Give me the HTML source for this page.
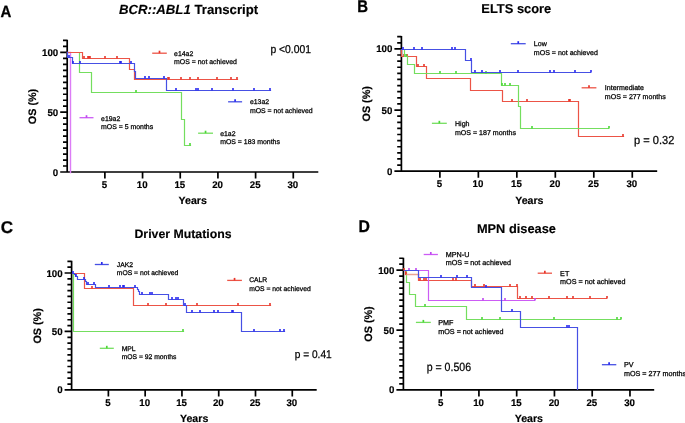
<!DOCTYPE html>
<html><head><meta charset="utf-8"><title>Kaplan-Meier OS curves</title>
<style>
html,body{margin:0;padding:0;background:#fff;}
body{width:685px;height:423px;overflow:hidden;font-family:"Liberation Sans", sans-serif;}
svg{display:block;will-change:transform;}
</style></head><body>
<svg width="685" height="423" viewBox="0 0 685 423" font-family="&quot;Liberation Sans&quot;, sans-serif" fill="#000" text-rendering="geometricPrecision">
<text x="0" y="0" font-size="16.3" font-weight="bold" stroke="#000" stroke-width="0.3" transform="translate(0.6 17) scale(0.92 1)">A</text>
<text x="0" y="0" font-size="17" font-weight="bold" stroke="#000" stroke-width="0.3" transform="translate(357.2 11.8) scale(0.88 1)">B</text>
<text x="0.8" y="232.8" font-size="17" font-weight="bold" text-anchor="start" stroke="#000" stroke-width="0.3">C</text>
<text x="0" y="0" font-size="17" font-weight="bold" stroke="#000" stroke-width="0.3" transform="translate(358.4 231.6) scale(0.93 1)">D</text>
<text x="188.6" y="13.9" font-size="13.2" font-weight="bold" text-anchor="middle" stroke="#000" stroke-width="0.15"><tspan font-style="italic">BCR::ABL1</tspan> Transcript</text>
<text x="516.3" y="12.8" font-size="12.9" font-weight="bold" text-anchor="middle" stroke="#000" stroke-width="0.15">ELTS score</text>
<text x="183" y="238.2" font-size="12.3" font-weight="bold" text-anchor="middle" stroke="#000" stroke-width="0.15">Driver Mutations</text>
<text x="516.4" y="233.1" font-size="12.8" font-weight="bold" text-anchor="middle" stroke="#000" stroke-width="0.15">MPN disease</text>
<path d="M67.2 39.84V172.8M60.2 172H318.3M60.2 172H67.2M63 166.02H67.2M63 160.04H67.2M63 154.06H67.2M63 148.08H67.2M63 142.1H67.2M63 136.12H67.2M63 130.14H67.2M63 124.16H67.2M63 118.18H67.2M60.2 112.2H67.2M63 106.22H67.2M63 100.24H67.2M63 94.26H67.2M63 88.28H67.2M63 82.3H67.2M63 76.32H67.2M63 70.34H67.2M63 64.36H67.2M63 58.38H67.2M60.2 52.4H67.2M63 46.42H67.2M63 40.44H67.2M104.88 172V178.5M142.56 172V178.5M180.24 172V178.5M217.92 172V178.5M255.6 172V178.5M293.28 172V178.5" stroke="#000" stroke-width="1.7" fill="none"/>
<text x="58.2" y="175.5" font-size="9.7" font-weight="bold" text-anchor="end" stroke="#000" stroke-width="0.18">0</text>
<text x="58.2" y="115.7" font-size="9.7" font-weight="bold" text-anchor="end" stroke="#000" stroke-width="0.18">50</text>
<text x="58.2" y="55.9" font-size="9.7" font-weight="bold" text-anchor="end" stroke="#000" stroke-width="0.18">100</text>
<text x="104.48" y="188" font-size="9.7" font-weight="bold" text-anchor="middle" stroke="#000" stroke-width="0.18">5</text>
<text x="142.16" y="188" font-size="9.7" font-weight="bold" text-anchor="middle" stroke="#000" stroke-width="0.18">10</text>
<text x="179.84" y="188" font-size="9.7" font-weight="bold" text-anchor="middle" stroke="#000" stroke-width="0.18">15</text>
<text x="217.52" y="188" font-size="9.7" font-weight="bold" text-anchor="middle" stroke="#000" stroke-width="0.18">20</text>
<text x="255.2" y="188" font-size="9.7" font-weight="bold" text-anchor="middle" stroke="#000" stroke-width="0.18">25</text>
<text x="292.88" y="188" font-size="9.7" font-weight="bold" text-anchor="middle" stroke="#000" stroke-width="0.18">30</text>
<text x="192.75" y="203.8" font-size="10.6" font-weight="bold" text-anchor="middle" stroke="#000" stroke-width="0.18">Years</text>
<text x="0" y="0" font-size="10.8" font-weight="bold" text-anchor="middle" stroke="#000" stroke-width="0.18" transform="translate(36 106.5) rotate(-90)">OS (%)</text>
<path d="M401.4 36.07V172M394.4 171.2H657.2M394.4 171.2H401.4M397.2 165.08H401.4M397.2 158.97H401.4M397.2 152.85H401.4M397.2 146.74H401.4M397.2 140.62H401.4M397.2 134.51H401.4M397.2 128.39H401.4M397.2 122.28H401.4M397.2 116.16H401.4M394.4 110.05H401.4M397.2 103.94H401.4M397.2 97.82H401.4M397.2 91.7H401.4M397.2 85.59H401.4M397.2 79.47H401.4M397.2 73.36H401.4M397.2 67.25H401.4M397.2 61.13H401.4M397.2 55.02H401.4M394.4 48.9H401.4M397.2 42.78H401.4M397.2 36.67H401.4M439.88 171.2V177.7M478.36 171.2V177.7M516.84 171.2V177.7M555.32 171.2V177.7M593.8 171.2V177.7M632.28 171.2V177.7" stroke="#000" stroke-width="1.7" fill="none"/>
<text x="392.4" y="174.7" font-size="9.7" font-weight="bold" text-anchor="end" stroke="#000" stroke-width="0.18">0</text>
<text x="392.4" y="113.55" font-size="9.7" font-weight="bold" text-anchor="end" stroke="#000" stroke-width="0.18">50</text>
<text x="392.4" y="52.4" font-size="9.7" font-weight="bold" text-anchor="end" stroke="#000" stroke-width="0.18">100</text>
<text x="439.48" y="187.2" font-size="9.7" font-weight="bold" text-anchor="middle" stroke="#000" stroke-width="0.18">5</text>
<text x="477.96" y="187.2" font-size="9.7" font-weight="bold" text-anchor="middle" stroke="#000" stroke-width="0.18">10</text>
<text x="516.44" y="187.2" font-size="9.7" font-weight="bold" text-anchor="middle" stroke="#000" stroke-width="0.18">15</text>
<text x="554.92" y="187.2" font-size="9.7" font-weight="bold" text-anchor="middle" stroke="#000" stroke-width="0.18">20</text>
<text x="593.4" y="187.2" font-size="9.7" font-weight="bold" text-anchor="middle" stroke="#000" stroke-width="0.18">25</text>
<text x="631.88" y="187.2" font-size="9.7" font-weight="bold" text-anchor="middle" stroke="#000" stroke-width="0.18">30</text>
<text x="529.3" y="203.6" font-size="10.6" font-weight="bold" text-anchor="middle" stroke="#000" stroke-width="0.18">Years</text>
<text x="0" y="0" font-size="10.8" font-weight="bold" text-anchor="middle" stroke="#000" stroke-width="0.18" transform="translate(370.3 103.8) rotate(-90)">OS (%)</text>
<path d="M71.6 260.71V390.7M64.6 389.9H316.7M64.6 389.9H71.6M67.4 384.05H71.6M67.4 378.21H71.6M67.4 372.37H71.6M67.4 366.52H71.6M67.4 360.67H71.6M67.4 354.83H71.6M67.4 348.99H71.6M67.4 343.14H71.6M67.4 337.29H71.6M64.6 331.45H71.6M67.4 325.61H71.6M67.4 319.76H71.6M67.4 313.91H71.6M67.4 308.07H71.6M67.4 302.23H71.6M67.4 296.38H71.6M67.4 290.53H71.6M67.4 284.69H71.6M67.4 278.85H71.6M64.6 273H71.6M67.4 267.15H71.6M67.4 261.31H71.6M108.38 389.9V396.4M145.16 389.9V396.4M181.94 389.9V396.4M218.72 389.9V396.4M255.5 389.9V396.4M292.28 389.9V396.4" stroke="#000" stroke-width="1.7" fill="none"/>
<text x="62.6" y="393.4" font-size="9.7" font-weight="bold" text-anchor="end" stroke="#000" stroke-width="0.18">0</text>
<text x="62.6" y="334.95" font-size="9.7" font-weight="bold" text-anchor="end" stroke="#000" stroke-width="0.18">50</text>
<text x="62.6" y="276.5" font-size="9.7" font-weight="bold" text-anchor="end" stroke="#000" stroke-width="0.18">100</text>
<text x="107.98" y="405.9" font-size="9.7" font-weight="bold" text-anchor="middle" stroke="#000" stroke-width="0.18">5</text>
<text x="144.76" y="405.9" font-size="9.7" font-weight="bold" text-anchor="middle" stroke="#000" stroke-width="0.18">10</text>
<text x="181.54" y="405.9" font-size="9.7" font-weight="bold" text-anchor="middle" stroke="#000" stroke-width="0.18">15</text>
<text x="218.32" y="405.9" font-size="9.7" font-weight="bold" text-anchor="middle" stroke="#000" stroke-width="0.18">20</text>
<text x="255.1" y="405.9" font-size="9.7" font-weight="bold" text-anchor="middle" stroke="#000" stroke-width="0.18">25</text>
<text x="291.88" y="405.9" font-size="9.7" font-weight="bold" text-anchor="middle" stroke="#000" stroke-width="0.18">30</text>
<text x="194.15" y="421.5" font-size="10.6" font-weight="bold" text-anchor="middle" stroke="#000" stroke-width="0.18">Years</text>
<text x="0" y="0" font-size="10.8" font-weight="bold" text-anchor="middle" stroke="#000" stroke-width="0.18" transform="translate(41.2 325.9) rotate(-90)">OS (%)</text>
<path d="M403.4 257.63V390.7M396.4 389.9H654.2M396.4 389.9H403.4M399.2 383.91H403.4M399.2 377.93H403.4M399.2 371.94H403.4M399.2 365.96H403.4M399.2 359.97H403.4M399.2 353.99H403.4M399.2 348H403.4M399.2 342.02H403.4M399.2 336.03H403.4M396.4 330.05H403.4M399.2 324.06H403.4M399.2 318.08H403.4M399.2 312.09H403.4M399.2 306.11H403.4M399.2 300.12H403.4M399.2 294.14H403.4M399.2 288.15H403.4M399.2 282.17H403.4M399.2 276.19H403.4M396.4 270.2H403.4M399.2 264.21H403.4M399.2 258.23H403.4M441.16 389.9V396.4M478.92 389.9V396.4M516.68 389.9V396.4M554.44 389.9V396.4M592.2 389.9V396.4M629.96 389.9V396.4" stroke="#000" stroke-width="1.7" fill="none"/>
<text x="394.4" y="393.4" font-size="9.7" font-weight="bold" text-anchor="end" stroke="#000" stroke-width="0.18">0</text>
<text x="394.4" y="333.55" font-size="9.7" font-weight="bold" text-anchor="end" stroke="#000" stroke-width="0.18">50</text>
<text x="394.4" y="273.7" font-size="9.7" font-weight="bold" text-anchor="end" stroke="#000" stroke-width="0.18">100</text>
<text x="440.76" y="405.9" font-size="9.7" font-weight="bold" text-anchor="middle" stroke="#000" stroke-width="0.18">5</text>
<text x="478.52" y="405.9" font-size="9.7" font-weight="bold" text-anchor="middle" stroke="#000" stroke-width="0.18">10</text>
<text x="516.28" y="405.9" font-size="9.7" font-weight="bold" text-anchor="middle" stroke="#000" stroke-width="0.18">15</text>
<text x="554.04" y="405.9" font-size="9.7" font-weight="bold" text-anchor="middle" stroke="#000" stroke-width="0.18">20</text>
<text x="591.8" y="405.9" font-size="9.7" font-weight="bold" text-anchor="middle" stroke="#000" stroke-width="0.18">25</text>
<text x="629.56" y="405.9" font-size="9.7" font-weight="bold" text-anchor="middle" stroke="#000" stroke-width="0.18">30</text>
<text x="528.8" y="421.8" font-size="10.6" font-weight="bold" text-anchor="middle" stroke="#000" stroke-width="0.18">Years</text>
<text x="0" y="0" font-size="10.8" font-weight="bold" text-anchor="middle" stroke="#000" stroke-width="0.18" transform="translate(371.8 324) rotate(-90)">OS (%)</text>
<path d="M67.5 52.5H70.5V172.5" stroke="#dc7cf6" stroke-width="1.4" fill="none" stroke-linecap="square"/>
<path d="M67.5 52.5H79.5V72.5H91.5V92.5H181.5V119.5H184.5V145.5H190.5" stroke="#74de5e" stroke-width="1.2" fill="none" stroke-linecap="square"/>
<path d="M136 92.5V90.1M190 145.5V143.1" stroke="#4cd838" stroke-width="1.6" fill="none"/>
<path d="M67.5 52.5H82.5V58.5H129.5V69.5H134.5V79.5H237.5" stroke="#ec5446" stroke-width="1.2" fill="none" stroke-linecap="square"/>
<path d="M84 58.5V56.1M88 58.5V56.1M89 58.5V56.1M90 58.5V56.1M105 58.5V56.1M117 58.5V56.1M168 79.5V77.1M169 79.5V77.1M181 79.5V77.1M190 79.5V77.1M198 79.5V77.1M217 79.5V77.1M231 79.5V77.1M237 79.5V77.1" stroke="#e8352a" stroke-width="1.6" fill="none"/>
<path d="M67.5 52.5V57.5H72.5V63.5H134.5V71.5H135.5V78.5H166.5V90.5H270.5" stroke="#4650e4" stroke-width="1.2" fill="none" stroke-linecap="square"/>
<path d="M69 57.5V55.1M73 63.5V61.1M80 63.5V61.1M120 63.5V61.1M121 63.5V61.1M131 63.5V61.1M145 78.5V76.1M149 78.5V76.1M164 78.5V76.1M176 90.5V88.1M196 90.5V88.1M198 90.5V88.1M212 90.5V88.1M233 90.5V88.1M254 90.5V88.1M270 90.5V88.1" stroke="#2828f0" stroke-width="1.6" fill="none"/>
<path d="M152.2 53.2H166.8" stroke="#ec5446" stroke-width="1.3" fill="none"/>
<path d="M159.5 53.2V50.7" stroke="#e8352a" stroke-width="1.7" fill="none"/>
<text x="174.1" y="55.8" font-size="6.91" font-weight="normal" text-anchor="start" stroke="#000" stroke-width="0.26">e14a2</text>
<text x="174.1" y="64.1" font-size="6.91" font-weight="normal" text-anchor="start" stroke="#000" stroke-width="0.26">mOS = not achieved</text>
<path d="M228.1 101.8H242.1" stroke="#4650e4" stroke-width="1.3" fill="none"/>
<path d="M235.1 101.8V99.3" stroke="#2828f0" stroke-width="1.7" fill="none"/>
<text x="249.9" y="104.3" font-size="6.91" font-weight="normal" text-anchor="start" stroke="#000" stroke-width="0.26">e13a2</text>
<text x="249.9" y="112.6" font-size="6.91" font-weight="normal" text-anchor="start" stroke="#000" stroke-width="0.26">mOS = not achieved</text>
<path d="M79.5 117.7H93.5" stroke="#cc5cf5" stroke-width="1.3" fill="none"/>
<path d="M86.5 117.7V115.2" stroke="#c048f0" stroke-width="1.7" fill="none"/>
<text x="101.1" y="120.5" font-size="6.91" font-weight="normal" text-anchor="start" stroke="#000" stroke-width="0.26">e19a2</text>
<text x="101.1" y="128.8" font-size="6.91" font-weight="normal" text-anchor="start" stroke="#000" stroke-width="0.26">mOS = 5 months</text>
<path d="M198.1 133.2H213" stroke="#74de5e" stroke-width="1.3" fill="none"/>
<path d="M205.55 133.2V130.7" stroke="#4cd838" stroke-width="1.7" fill="none"/>
<text x="220.2" y="135.6" font-size="6.91" font-weight="normal" text-anchor="start" stroke="#000" stroke-width="0.26">e1a2</text>
<text x="220.2" y="144" font-size="6.91" font-weight="normal" text-anchor="start" stroke="#000" stroke-width="0.26">mOS = 183 months</text>
<text x="0" y="0" font-size="11.4" stroke="#000" stroke-width="0.25" transform="translate(270.4 53.3) scale(0.91 1)">p &lt;0.001</text>
<path d="M401.5 49.5V56.5H416.5V66.5H426.5V78.5H470.5V90.5H502.5V101.5H578.5V136.5H623.5" stroke="#ec5446" stroke-width="1.2" fill="none" stroke-linecap="square"/>
<path d="M404 56.5V54.1M407 56.5V54.1M418 66.5V64.1M424 66.5V64.1M512 101.5V99.1M527 101.5V99.1M569 101.5V99.1M570 101.5V99.1M623 136.5V134.1" stroke="#e8352a" stroke-width="1.6" fill="none"/>
<path d="M401.5 49.5H404.5V56.5H407.5V64.5H414.5V73.5H501.5V85.5H518.5V106.5H520.5V128.5H608.5" stroke="#74de5e" stroke-width="1.2" fill="none" stroke-linecap="square"/>
<path d="M406 56.5V54.1M440 73.5V71.1M456 73.5V71.1M486 73.5V71.1M502 85.5V83.1M505 85.5V83.1M510 85.5V83.1M532 128.5V126.1M609 128.5V126.1" stroke="#4cd838" stroke-width="1.6" fill="none"/>
<path d="M401.5 49.5H465.5V60.5H471.5V72.5H590.5" stroke="#4650e4" stroke-width="1.2" fill="none" stroke-linecap="square"/>
<path d="M403 49.5V47.1M414 49.5V47.1M422 49.5V47.1M452 49.5V47.1M455 49.5V47.1M471 60.5V58.1M475 72.5V70.1M482 72.5V70.1M500 72.5V70.1M518 72.5V70.1M550 72.5V70.1M554 72.5V70.1M575 72.5V70.1M591 72.5V70.1" stroke="#2828f0" stroke-width="1.6" fill="none"/>
<path d="M510.8 43.7H525.7" stroke="#4650e4" stroke-width="1.3" fill="none"/>
<path d="M518.25 43.7V41.2" stroke="#2828f0" stroke-width="1.7" fill="none"/>
<text x="533.8" y="46.2" font-size="7.06" font-weight="normal" text-anchor="start" stroke="#000" stroke-width="0.26">Low</text>
<text x="533.8" y="54.7" font-size="7.06" font-weight="normal" text-anchor="start" stroke="#000" stroke-width="0.26">mOS = not achieved</text>
<path d="M581.6 87.8H596.4" stroke="#ec5446" stroke-width="1.3" fill="none"/>
<path d="M589 87.8V85.3" stroke="#e8352a" stroke-width="1.7" fill="none"/>
<text x="604.8" y="90.2" font-size="7.06" font-weight="normal" text-anchor="start" stroke="#000" stroke-width="0.26">Intermediate</text>
<text x="604.8" y="98.9" font-size="7.06" font-weight="normal" text-anchor="start" stroke="#000" stroke-width="0.26">mOS = 277 months</text>
<path d="M431.9 123.3H446.8" stroke="#74de5e" stroke-width="1.3" fill="none"/>
<path d="M439.35 123.3V120.8" stroke="#4cd838" stroke-width="1.7" fill="none"/>
<text x="455" y="125.8" font-size="7.06" font-weight="normal" text-anchor="start" stroke="#000" stroke-width="0.26">High</text>
<text x="455" y="134.5" font-size="7.06" font-weight="normal" text-anchor="start" stroke="#000" stroke-width="0.26">mOS = 187 months</text>
<text x="0" y="0" font-size="11.64" stroke="#000" stroke-width="0.25" transform="translate(634.1 144.1) scale(0.95 1)">p = 0.32</text>
<path d="M73.5 273.5V331.5H183.5" stroke="#74de5e" stroke-width="1.2" fill="none" stroke-linecap="square"/>
<path d="M183 331.5V329.1" stroke="#4cd838" stroke-width="1.6" fill="none"/>
<path d="M72.5 273.5H84.5V288.5H133.5V305.5H270.5" stroke="#ec5446" stroke-width="1.2" fill="none" stroke-linecap="square"/>
<path d="M92 288.5V286.1M148 305.5V303.1M166 305.5V303.1M197 305.5V303.1M238 305.5V303.1M270 305.5V303.1" stroke="#e8352a" stroke-width="1.6" fill="none"/>
<path d="M72.5 273.5H74.5V274.5H75.5V276.5H77.5V279.5H85.5V281.5H86.5V284.5H95.5V287.5H137.5V289.5H138.5V291.5H139.5V294.5H168.5V299.5H183.5V305.5H186.5V312.5H241.5V331.5H284.5" stroke="#4650e4" stroke-width="1.2" fill="none" stroke-linecap="square"/>
<path d="M73 273.5V271.1M76 276.5V274.1M84 279.5V277.1M88 284.5V282.1M94 284.5V282.1M109 287.5V285.1M120 287.5V285.1M123 287.5V285.1M124 287.5V285.1M135 287.5V285.1M142 294.5V292.1M150 294.5V292.1M152 294.5V292.1M172 299.5V297.1M176 299.5V297.1M178 299.5V297.1M185 305.5V303.1M192 312.5V310.1M200 312.5V310.1M214 312.5V310.1M218 312.5V310.1M232 312.5V310.1M233 312.5V310.1M254 331.5V329.1M280 331.5V329.1M284 331.5V329.1" stroke="#2828f0" stroke-width="1.6" fill="none"/>
<path d="M94.8 264.5H108.8" stroke="#4650e4" stroke-width="1.3" fill="none"/>
<path d="M101.8 264.5V262" stroke="#2828f0" stroke-width="1.7" fill="none"/>
<text x="116.8" y="266.9" font-size="6.77" font-weight="normal" text-anchor="start" stroke="#000" stroke-width="0.26">JAK2</text>
<text x="116.8" y="274.8" font-size="6.77" font-weight="normal" text-anchor="start" stroke="#000" stroke-width="0.26">mOS = not achieved</text>
<path d="M227.2 280.4H241.9" stroke="#ec5446" stroke-width="1.3" fill="none"/>
<path d="M234.55 280.4V277.9" stroke="#e8352a" stroke-width="1.7" fill="none"/>
<text x="249.2" y="282.4" font-size="6.77" font-weight="normal" text-anchor="start" stroke="#000" stroke-width="0.26">CALR</text>
<text x="249.2" y="290.9" font-size="6.77" font-weight="normal" text-anchor="start" stroke="#000" stroke-width="0.26">mOS = not achieved</text>
<path d="M99.8 348.3H113.8" stroke="#74de5e" stroke-width="1.3" fill="none"/>
<path d="M106.8 348.3V345.8" stroke="#4cd838" stroke-width="1.7" fill="none"/>
<text x="121.7" y="350.5" font-size="6.77" font-weight="normal" text-anchor="start" stroke="#000" stroke-width="0.26">MPL</text>
<text x="121.7" y="358.8" font-size="6.77" font-weight="normal" text-anchor="start" stroke="#000" stroke-width="0.26">mOS = 92 months</text>
<text x="0" y="0" font-size="11.17" stroke="#000" stroke-width="0.25" transform="translate(294.7 357.8) scale(0.91 1)">p = 0.41</text>
<path d="M404.5 270.5H406.5V282.5H409.5V294.5H415.5V306.5H466.5V319.5H620.5" stroke="#74de5e" stroke-width="1.2" fill="none" stroke-linecap="square"/>
<path d="M425 306.5V304.1M482 319.5V317.1M500 319.5V317.1M554 319.5V317.1M617 319.5V317.1M621 319.5V317.1" stroke="#4cd838" stroke-width="1.6" fill="none"/>
<path d="M405.5 274.5H418.5" stroke="#eaa494" stroke-width="1.5" fill="none" stroke-linecap="square"/>
<path d="M404.5 270.5H405.5V274.5M418.5 274.5V280.5H471.5V286.5H517.5V298.5H606.5" stroke="#ec5446" stroke-width="1.2" fill="none" stroke-linecap="square"/>
<path d="M404 270.5V268.1M406 274.5V272.1M420 280.5V278.1M424 280.5V278.1M426 280.5V278.1M453 280.5V278.1M456 280.5V278.1M475 286.5V284.1M484 286.5V284.1M510 286.5V284.1M517 286.5V284.1M520 298.5V296.1M526 298.5V296.1M532 298.5V296.1M549 298.5V296.1M567 298.5V296.1M573 298.5V296.1M590 298.5V296.1M607 298.5V296.1" stroke="#e8352a" stroke-width="1.6" fill="none"/>
<path d="M404.5 270.5H428.5V300.5H534.5" stroke="#cc5cf5" stroke-width="1.2" fill="none" stroke-linecap="square"/>
<path d="M409 270.5V268.1M416 270.5V268.1M483 300.5V298.1M505 300.5V298.1M535 300.5V298.1" stroke="#c048f0" stroke-width="1.6" fill="none"/>
<path d="M404.5 270.5H418.5V277.5H471.5V287.5H501.5V311.5H520.5V327.5H577.5V389.5" stroke="#4650e4" stroke-width="1.2" fill="none" stroke-linecap="square"/>
<path d="M441 277.5V275.1M457 277.5V275.1M467 277.5V275.1M486 287.5V285.1M512 311.5V309.1M567 327.5V325.1M569 327.5V325.1" stroke="#2828f0" stroke-width="1.6" fill="none"/>
<path d="M423.7 254.5H437.9" stroke="#cc5cf5" stroke-width="1.3" fill="none"/>
<path d="M430.8 254.5V252" stroke="#c048f0" stroke-width="1.7" fill="none"/>
<text x="445.8" y="256.9" font-size="7.2" font-weight="normal" text-anchor="start" stroke="#000" stroke-width="0.26">MPN-U</text>
<text x="445.8" y="265.3" font-size="7.2" font-weight="normal" text-anchor="start" stroke="#000" stroke-width="0.26">mOS = not achieved</text>
<path d="M537.7 273.2H552" stroke="#ec5446" stroke-width="1.3" fill="none"/>
<path d="M544.85 273.2V270.7" stroke="#e8352a" stroke-width="1.7" fill="none"/>
<text x="560.1" y="275.8" font-size="7.2" font-weight="normal" text-anchor="start" stroke="#000" stroke-width="0.26">ET</text>
<text x="560.1" y="284.1" font-size="7.2" font-weight="normal" text-anchor="start" stroke="#000" stroke-width="0.26">mOS = not achieved</text>
<path d="M415.9 322.4H430.8" stroke="#74de5e" stroke-width="1.3" fill="none"/>
<path d="M423.35 322.4V319.9" stroke="#4cd838" stroke-width="1.7" fill="none"/>
<text x="438.3" y="324.8" font-size="7.2" font-weight="normal" text-anchor="start" stroke="#000" stroke-width="0.26">PMF</text>
<text x="438.3" y="333.6" font-size="7.2" font-weight="normal" text-anchor="start" stroke="#000" stroke-width="0.26">mOS = not achieved</text>
<path d="M601.9 364.7H616.3" stroke="#4650e4" stroke-width="1.3" fill="none"/>
<path d="M609.1 364.7V362.2" stroke="#2828f0" stroke-width="1.7" fill="none"/>
<text x="624" y="367.2" font-size="7.2" font-weight="normal" text-anchor="start" stroke="#000" stroke-width="0.26">PV</text>
<text x="624" y="375.7" font-size="7.2" font-weight="normal" text-anchor="start" stroke="#000" stroke-width="0.26">mOS = 277 months</text>
<text x="0" y="0" font-size="11.88" stroke="#000" stroke-width="0.25" transform="translate(426.7 371.4) scale(0.89 1)">p = 0.506</text>
</svg>
</body></html>
